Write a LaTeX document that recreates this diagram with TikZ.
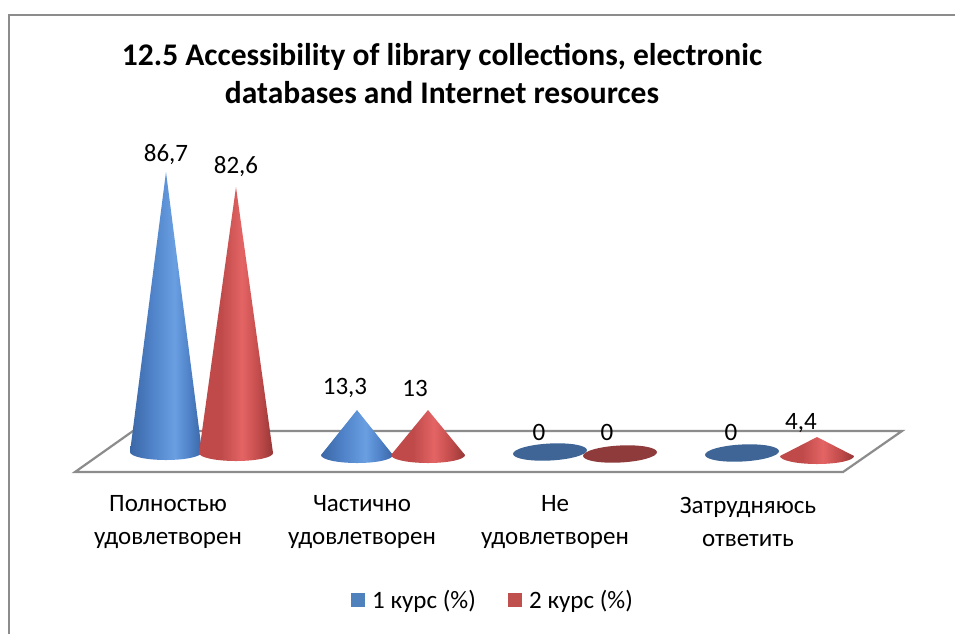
\documentclass[tikz,border=0pt]{standalone}
\usepackage{fontspec}
\setmainfont{Carlito}
\definecolor{floorgray}{HTML}{8C8C8C}
\definecolor{bdark}{HTML}{3B67A6}
\definecolor{bmid}{HTML}{4F82C8}
\definecolor{blight}{HTML}{6A9FE2}
\definecolor{rdark}{HTML}{963636}
\definecolor{rmid}{HTML}{C04A4A}
\definecolor{rlight}{HTML}{E46464}
\definecolor{bflat}{HTML}{3E6596}
\definecolor{rflat}{HTML}{8F3B3B}
\definecolor{legblue}{HTML}{4F81BD}
\definecolor{legred}{HTML}{C0504D}
\pgfdeclarehorizontalshading{bluecone}{100bp}{color(0bp)=(bdark); color(25bp)=(bdark); color(40bp)=(bmid); color(56bp)=(blight); color(66bp)=(bmid); color(75bp)=(bdark); color(100bp)=(bdark)}
\pgfdeclarehorizontalshading{redcone}{100bp}{color(0bp)=(rmid); color(25bp)=(rmid); color(40bp)=(rmid); color(54bp)=(rlight); color(66bp)=(rmid); color(75bp)=(rdark); color(100bp)=(rdark)}
\newcommand\drawcone[6]{%
  \shade[shading=#1] ({#2+#4},#3) -- (#2,#6) -- ({#2-#4},#3)
    arc[start angle=180,end angle=0,x radius=#4,y radius=#5] -- cycle;}
\tikzset{
  val/.style={font=\fontsize{25}{29}\selectfont, inner sep=0pt},
  cat/.style={font=\fontsize{25}{33}\selectfont, align=center, inner sep=0pt},
  leg/.style={font=\fontsize{25}{29}\selectfont, anchor=west, inner sep=0pt},
  title/.style={font=\fontsize{31.5}{38}\selectfont\bfseries, align=center, inner sep=0pt},
}
\begin{document}
\begin{tikzpicture}[x=1pt,y=-1pt]
\useasboundingbox (0,0) rectangle (955,633);
\fill[white] (0,0) rectangle (955,633);
% outer border
\draw[floorgray, line width=2.5pt] (9,640) -- (9,15) -- (960,15);
% title
\node[title] (t) at (442,74) {12.5 Accessibility of library collections, electronic\\databases and Internet resources};
% floor
\draw[floorgray, line width=2.2pt, line join=miter] (75,472) -- (133,431) -- (902,431) -- (843,472) -- cycle;
% series: Полностью
\drawcone{bluecone}{166}{452}{36}{8}{172}
\drawcone{redcone}{236}{453}{37}{8}{187}
% Частично
\drawcone{bluecone}{357}{455}{36}{8}{410}
\drawcone{redcone}{428}{455}{37}{8}{410}
% Не удовлетворен
\fill[bflat] (550,452) ellipse[x radius=37, y radius=8.5, rotate=3];
\fill[rflat] (620,454) ellipse[x radius=37, y radius=8.5, rotate=3];
% Затрудняюсь
\fill[bflat] (742,453) ellipse[x radius=37, y radius=8.5, rotate=3];
\drawcone{redcone}{817}{456}{37}{8}{437}
% value labels
\node[val] (v1) at (166,155) {86,7};
\node[val] (v2) at (236,167) {82,6};
\node[val] (v3) at (345,388) {13,3};
\node[val] (v4) at (415,388) {13};
\node[val] (v5) at (539,432) {0};
\node[val] (v6) at (607,432) {0};
\node[val] (v7) at (731,432) {0};
\node[val] (v8) at (801,423) {4,4};
% category labels
\node[cat] (c1) at (168,522) {Полностью\\удовлетворен};
\node[cat] (c2) at (362,522) {Частично\\удовлетворен};
\node[cat] (c3) at (555,522) {Не\\удовлетворен};
\node[cat] (c4) at (748,522) {Затрудняюсь\\ответить};
% legend
\fill[legblue] (351,593) rectangle (365,607);
\node[leg] (l1) at (372,601) {1 курс (\%)};
\fill[legred] (508,593) rectangle (522,607);
\node[leg] (l2) at (529,601) {2 курс (\%)};
\end{tikzpicture}
\end{document}
